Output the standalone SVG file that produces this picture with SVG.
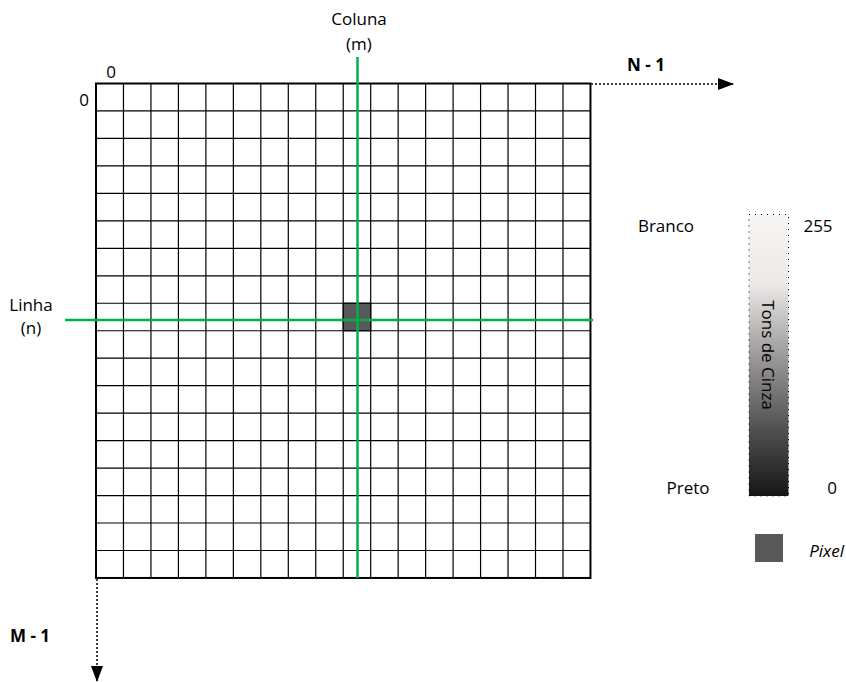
<svg xmlns="http://www.w3.org/2000/svg" width="846" height="682" viewBox="0 0 846 682">
<style>
.t{font-family:"Open Sans","Noto Sans","Liberation Sans",sans-serif;font-size:17px;fill:#000}
.b{font-weight:bold}
.grid{stroke:#000;stroke-width:1.2;fill:none}
.green{stroke:#00b050;stroke-width:2.5;fill:none}
.dot{stroke:#000;stroke-width:1.5;stroke-dasharray:2 2;fill:none}
</style>
<defs>
<marker id="ah" markerWidth="16" markerHeight="12" refX="15" refY="6" orient="auto" markerUnits="userSpaceOnUse" viewBox="0 0 16 12">
<path d="M0,0 L16,6 L0,12 z" fill="#000"/>
</marker>
<linearGradient id="gg" x1="0" y1="0" x2="0" y2="1">
<stop offset="0" stop-color="#f8f5f5"/>
<stop offset="0.25" stop-color="#ebe8e8"/>
<stop offset="0.5" stop-color="#9c9a9a"/>
<stop offset="0.75" stop-color="#555454"/>
<stop offset="1" stop-color="#161616"/>
</linearGradient>
</defs>
<g id="grid">
<path class="grid" d="M123.47,83.5V577.96M150.94,83.5V577.96M178.41,83.5V577.96M205.88,83.5V577.96M233.35,83.5V577.96M260.82,83.5V577.96M288.29,83.5V577.96M315.76,83.5V577.96M343.23,83.5V577.96M370.7,83.5V577.96M398.17,83.5V577.96M425.64,83.5V577.96M453.11,83.5V577.96M480.58,83.5V577.96M508.05,83.5V577.96M535.52,83.5V577.96M562.99,83.5V577.96M96,110.97H590.46M96,138.44H590.46M96,165.91H590.46M96,193.38H590.46M96,220.85H590.46M96,248.32H590.46M96,275.79H590.46M96,303.26H590.46M96,330.73H590.46M96,358.2H590.46M96,385.67H590.46M96,413.14H590.46M96,440.61H590.46M96,468.08H590.46M96,495.55H590.46M96,523.02H590.46M96,550.49H590.46"/>
<rect x="96" y="83.5" width="494.46" height="494.46" fill="none" stroke="#000" stroke-width="2"/>
<text class="t" x="111" y="78" text-anchor="middle">0</text>
<text class="t" x="84" y="106" text-anchor="middle">0</text>
</g>
<g id="pixel-cell">
<rect x="343.23" y="303.26" width="27.47" height="27.47" fill="#595959" stroke="#000" stroke-width="1.2"/>
</g>
<g id="connectors">
<path class="green" d="M357.5,57V578"/>
<path class="green" d="M65,320H593"/>
<path class="dot" d="M591,84H733" marker-end="url(#ah)"/>
<path class="dot" d="M97,579V681" marker-end="url(#ah)"/>
</g>
<g id="coluna">
<text class="t" x="359" y="25" text-anchor="middle">Coluna</text>
<text class="t" x="359" y="50" text-anchor="middle">(m)</text>
</g>
<g id="linha">
<text class="t" x="31" y="311" text-anchor="middle">Linha</text>
<text class="t" x="31" y="334" text-anchor="middle">(n)</text>
</g>
<g id="n1"><text class="t b" x="646" y="71" text-anchor="middle">N - 1</text></g>
<g id="m1"><text class="t b" x="30" y="642" text-anchor="middle">M - 1</text></g>
<g id="scale">
<rect x="749" y="214.5" width="39.5" height="281.5" fill="url(#gg)" stroke="#000" stroke-width="1" stroke-dasharray="1 5"/>
<text class="t" transform="translate(762,355) rotate(90)" text-anchor="middle" fill="#262626">Tons de Cinza</text>
<text class="t" x="666" y="232" text-anchor="middle">Branco</text>
<text class="t" x="818" y="232" text-anchor="middle">255</text>
<text class="t" x="688" y="494" text-anchor="middle">Preto</text>
<text class="t" x="832" y="494" text-anchor="middle">0</text>
</g>
<g id="legend">
<rect x="755" y="534" width="28" height="28" fill="#595959"/>
<text class="t" x="844" y="557" text-anchor="end" font-style="italic">Pixel</text>
</g>
</svg>
